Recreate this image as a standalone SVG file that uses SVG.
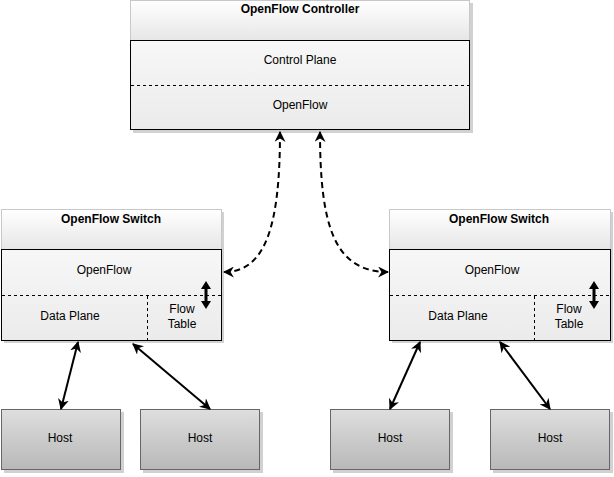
<svg xmlns="http://www.w3.org/2000/svg" width="614" height="477" viewBox="0 0 614 477">
<defs>
<linearGradient id="gHead" x1="0" y1="0" x2="0" y2="1"><stop offset="0" stop-color="#ffffff"/><stop offset="1" stop-color="#e6e6e6"/></linearGradient>
<linearGradient id="gBody" x1="0" y1="0" x2="0" y2="1"><stop offset="0" stop-color="#f7f7f7"/><stop offset="1" stop-color="#ebebeb"/></linearGradient>
<linearGradient id="gHost" x1="0" y1="0" x2="0" y2="1"><stop offset="0" stop-color="#dedede"/><stop offset="1" stop-color="#b8b8b8"/></linearGradient>
<marker id="ah" viewBox="0 0 10 10" refX="9" refY="5" markerWidth="5.5" markerHeight="5.5" orient="auto-start-reverse" markerUnits="strokeWidth">
<path d="M0,0 L10,5 L0,10 L3,5 Z" fill="#000"/>
</marker>
</defs>
<style>
text{font-family:"Liberation Sans",Arial,sans-serif;font-size:12px;fill:#000;text-anchor:middle}
.b{font-weight:bold}
.head{fill:url(#gHead);stroke:#c8c8c8;stroke-width:1}
.body{fill:url(#gBody);stroke:#000;stroke-width:1}
.sh{fill:#000;opacity:0.18}
.dash{stroke:#000;stroke-width:1;stroke-dasharray:3,3;fill:none}
.host{fill:url(#gHost);stroke:#666;stroke-width:1}
.con{stroke:#000;stroke-width:2;fill:none;marker-start:url(#ah);marker-end:url(#ah)}
.dcon{stroke:#000;stroke-width:2;fill:none;stroke-dasharray:6,4;marker-start:url(#ah);marker-end:url(#ah)}
</style>
<g id="controller">
<rect class="sh" x="133" y="3" width="340" height="130"/>
<rect class="head" x="130.5" y="0.5" width="339" height="40"/>
<rect class="body" x="130.5" y="40.5" width="339" height="89"/>
<line class="dash" x1="131" y1="85.5" x2="469" y2="85.5"/>
<text class="b" x="300" y="13">OpenFlow Controller</text>
<text x="300" y="64">Control Plane</text>
<text x="300" y="109">OpenFlow</text>
</g>
<g id="switch-left">
<rect class="sh" x="4" y="212" width="220" height="131"/>
<rect class="head" x="1.5" y="209.5" width="220" height="40"/>
<rect class="body" x="1.5" y="249.5" width="220" height="91"/>
<line class="dash" x1="2" y1="295.5" x2="221" y2="295.5"/>
<line class="dash" x1="147.5" y1="296" x2="147.5" y2="340"/>
<text class="b" x="111" y="223">OpenFlow Switch</text>
<text x="104" y="274">OpenFlow</text>
<text x="70" y="320">Data Plane</text>
<text x="182" y="313">Flow</text>
<text x="182" y="328">Table</text>
<path d="M206,281 L211,289 L207.5,289 L207.5,301 L211,301 L206,309 L201,301 L204.5,301 L204.5,289 L201,289 Z" fill="#000"/>
</g>
<g id="switch-right">
<rect class="sh" x="392" y="212" width="221" height="131"/>
<rect class="head" x="389.5" y="209.5" width="221" height="40"/>
<rect class="body" x="389.5" y="249.5" width="221" height="91"/>
<line class="dash" x1="390" y1="295.5" x2="610" y2="295.5"/>
<line class="dash" x1="534.5" y1="296" x2="534.5" y2="340"/>
<text class="b" x="499" y="223">OpenFlow Switch</text>
<text x="492" y="274">OpenFlow</text>
<text x="458" y="320">Data Plane</text>
<text x="569" y="313">Flow</text>
<text x="569" y="328">Table</text>
<path d="M594,281 L599,289 L595.5,289 L595.5,301 L599,301 L594,309 L589,301 L592.5,301 L592.5,289 L589,289 Z" fill="#000"/>
</g>
<g id="host1"><rect class="sh" x="4" y="412" width="120" height="61"/><rect class="host" x="1.5" y="409.5" width="119" height="60"/><text x="60" y="442">Host</text></g>
<g id="host2"><rect class="sh" x="143" y="412" width="120" height="61"/><rect class="host" x="140.5" y="409.5" width="119" height="60"/><text x="200" y="442">Host</text></g>
<g id="host3"><rect class="sh" x="333" y="412" width="120" height="61"/><rect class="host" x="330.5" y="409.5" width="119" height="60"/><text x="390" y="442">Host</text></g>
<g id="host4"><rect class="sh" x="493" y="412" width="120" height="61"/><rect class="host" x="490.5" y="409.5" width="119" height="60"/><text x="550" y="442">Host</text></g>
<g id="connectors">
<path class="dcon" d="M280,132 C280,225 266,272 224,272"/>
<path class="dcon" d="M320,132 C320,225 334,272 388,272"/>
<line class="con" x1="78" y1="342" x2="61" y2="409"/>
<line class="con" x1="133" y1="344" x2="210" y2="409"/>
<line class="con" x1="420" y1="342" x2="390" y2="409"/>
<line class="con" x1="500" y1="342" x2="550" y2="409"/>
</g>
</svg>
